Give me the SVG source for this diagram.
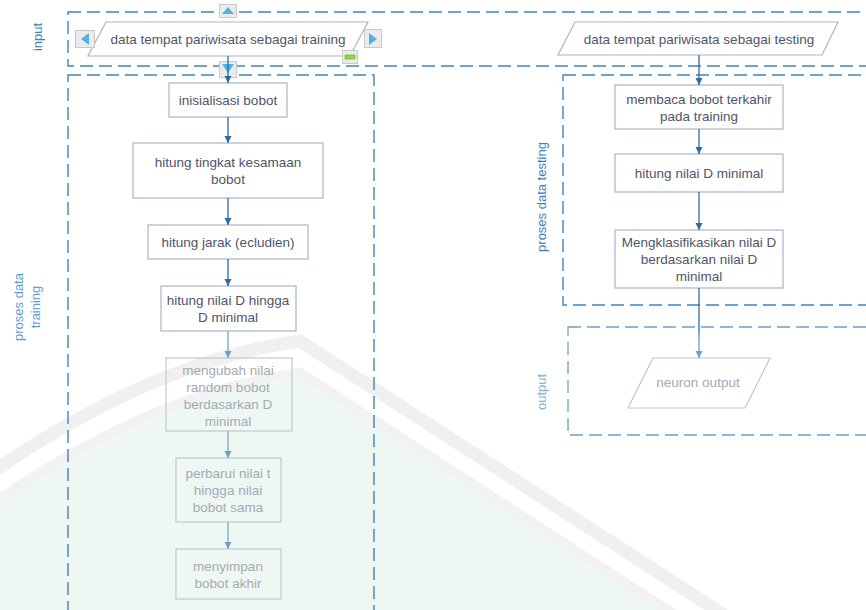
<svg xmlns="http://www.w3.org/2000/svg" width="866" height="610" viewBox="0 0 866 610">
  <style>
    .lane { fill: none; stroke: #3f84bf; stroke-width: 1.4; stroke-dasharray: 13 6; }
    .lane-soft { fill: none; stroke: #6f9fca; stroke-width: 1.3; stroke-dasharray: 13 6; }
    .lbl { font-family: "Liberation Sans", Arial, sans-serif; font-size: 13px; text-anchor: middle; }
    .box { fill: none; stroke: #a9b5c7; stroke-width: 1.2; }
    .box-soft { fill: none; stroke: #bccad2; stroke-width: 1.2; }
    .txt { font-family: "Liberation Sans", Arial, sans-serif; font-size: 13.5px; fill: #50546a; text-anchor: middle; }
    .txt-soft { font-family: "Liberation Sans", Arial, sans-serif; font-size: 13.5px; fill: #a2abb3; text-anchor: middle; }
    .edge { fill: none; stroke: #2b6ca3; stroke-width: 1.3; marker-end: url(#ah); }
    .edge-soft { fill: none; stroke: #6da0c2; stroke-width: 1.2; marker-end: url(#ah-soft); }
    .btn { fill: #ebebeb; stroke: #c9c9c9; stroke-width: 1; }
    .tri { fill: #4fb2e3; }
  </style>
  <defs>
    <marker id="ah" markerWidth="8" markerHeight="8" refX="7" refY="4" orient="auto" markerUnits="userSpaceOnUse">
      <path d="M0,0.5 L7,4 L0,7.5 z" fill="#2b6ca3"/>
    </marker>
    <marker id="ah-soft" markerWidth="8" markerHeight="8" refX="7" refY="4" orient="auto" markerUnits="userSpaceOnUse">
      <path d="M0,0.5 L7,4 L0,7.5 z" fill="#6da0c2"/>
    </marker>
    <linearGradient id="fadeDown" gradientUnits="userSpaceOnUse" x1="0" y1="288" x2="0" y2="358">
      <stop offset="0.6" stop-color="#2b6ca3"/>
      <stop offset="0.75" stop-color="#6da0c2"/>
    </linearGradient>
  </defs>

  <rect width="866" height="610" fill="#ffffff"/>

  <!-- faint background emblem -->
  <g id="emblem">
    <path d="M-10,505 Q150,393 300,372 L676,615 L-10,615 Z" fill="#eef7f2"/>
    <path d="M-10,474 Q150,362 300,341 L724,615" fill="none" stroke="#f0f0f0" stroke-width="13"/>
    <path d="M-10,505 Q150,393 300,372 L676,615" fill="none" stroke="#f1f2f1" stroke-width="9"/>
  </g>

  <!-- swimlanes -->
  <g id="lane-input">
    <rect class="lane" x="68" y="12" width="850" height="54"/>
    <text class="lbl" fill="#3a7fc1" transform="translate(41.5,37) rotate(-90)">input</text>
  </g>
  <g id="lane-training">
    <rect class="lane" x="68" y="75" width="306" height="600"/>
    <text class="lbl" fill="#5f9bd0" transform="translate(23,307) rotate(-90)">proses data</text>
    <text class="lbl" fill="#5f9bd0" transform="translate(40,307) rotate(-90)">training</text>
  </g>
  <g id="lane-testing">
    <rect class="lane" x="563" y="75" width="400" height="230"/>
    <text class="lbl" fill="#3a7fc1" transform="translate(546,197) rotate(-90)">proses data testing</text>
  </g>
  <g id="lane-output">
    <rect class="lane-soft" x="568" y="327" width="400" height="108"/>
    <text class="lbl" fill="#86b0d6" transform="translate(546,392) rotate(-90)">output</text>
  </g>

  <!-- training column -->
  <g id="in-training">
    <polygon class="box" points="106,22 368,22 350,56 88,56"/>
    <text class="txt" x="228" y="43.8">data tempat pariwisata sebagai training</text>
  </g>
  <g id="inisialisasi">
    <rect class="box" x="169" y="83" width="118" height="34"/>
    <text class="txt" x="228" y="104.5">inisialisasi bobot</text>
  </g>
  <g id="kesamaan">
    <rect class="box" x="133" y="143" width="190" height="55"/>
    <text class="txt" x="228" y="166.8">hitung tingkat kesamaan<tspan x="228" dy="17">bobot</tspan></text>
  </g>
  <g id="jarak">
    <rect class="box" x="148" y="225" width="160" height="34"/>
    <text class="txt" x="228" y="246.8">hitung jarak (ecludien)</text>
  </g>
  <g id="nilai-d">
    <rect class="box" x="161" y="286" width="135" height="45"/>
    <text class="txt" x="228" y="305">hitung nilai D hingga<tspan x="228" dy="17">D minimal</tspan></text>
  </g>
  <g id="ubah-bobot">
    <rect class="box-soft" x="166" y="358" width="126" height="73"/>
    <text class="txt-soft" x="228" y="374.8">mengubah nilai<tspan x="228" dy="17">random bobot</tspan><tspan x="228" dy="17">berdasarkan D</tspan><tspan x="228" dy="17">minimal</tspan></text>
  </g>
  <g id="perbarui">
    <rect class="box-soft" x="176" y="458" width="105" height="64"/>
    <text class="txt-soft" x="228" y="477.8">perbarui nilai t<tspan x="228" dy="17">hingga nilai</tspan><tspan x="228" dy="17">bobot sama</tspan></text>
  </g>
  <g id="simpan">
    <rect class="box-soft" x="176" y="549" width="105" height="50"/>
    <text class="txt-soft" x="228" y="570.5">menyimpan<tspan x="228" dy="17">bobot akhir</tspan></text>
  </g>

  <!-- testing column -->
  <g id="in-testing">
    <polygon class="box" points="575,22 838,22 822,55 558,55"/>
    <text class="txt" x="699" y="43.8">data tempat pariwisata sebagai testing</text>
  </g>
  <g id="baca-bobot">
    <rect class="box" x="615" y="85" width="168" height="44"/>
    <text class="txt" x="699" y="103.5">membaca bobot terkahir<tspan x="699" dy="17">pada training</tspan></text>
  </g>
  <g id="d-minimal">
    <rect class="box" x="615" y="154" width="168" height="38"/>
    <text class="txt" x="699" y="177.8">hitung nilai D minimal</text>
  </g>
  <g id="klasifikasi">
    <rect class="box" x="615" y="230" width="168" height="58"/>
    <text class="txt" x="699" y="246.8">Mengklasifikasikan nilai D<tspan x="699" dy="17">berdasarkan nilai D</tspan><tspan x="699" dy="17">minimal</tspan></text>
  </g>
  <g id="neuron-output">
    <polygon class="box-soft" points="653,358 770,358 745,408 628,408"/>
    <text class="txt-soft" x="698" y="386.8" fill="#a7adbb">neuron output</text>
  </g>

  <!-- editor handles on the selected input shape -->
  <g id="handles">
    <rect class="btn" x="219.5" y="4.5" width="17" height="13"/>
    <path class="tri" d="M222,14 L234,14 L228,7 z"/>
    <rect class="btn" x="219.5" y="61.5" width="17" height="16"/>
    <path class="tri" d="M222,64 L234,64 L228,73 z"/>
    <rect class="btn" x="75.5" y="30.5" width="19" height="17"/>
    <path class="tri" d="M89,33 L89,45 L81,39 z"/>
    <rect class="btn" x="364.5" y="29.5" width="17" height="18"/>
    <path class="tri" d="M369,33 L369,45 L377,39 z"/>
    <rect class="btn" x="342.5" y="50.5" width="15" height="13"/>
    <rect x="345" y="55" width="10" height="4" fill="#8fd64a" stroke="#6aa832" stroke-width="0.6"/>
  </g>

  <!-- connectors -->
  <g id="connectors">
    <path class="edge" d="M228,56 V83"/>
    <path class="edge" d="M228,117 V143"/>
    <path class="edge" d="M228,198 V225"/>
    <path class="edge" d="M228,259 V286"/>
    <path class="edge-soft" d="M228,331 V358"/>
    <path class="edge-soft" d="M228,431 V458"/>
    <path class="edge-soft" d="M228,522 V549"/>
    <path class="edge" d="M699,55 V85"/>
    <path class="edge" d="M699,129 V154"/>
    <path class="edge" d="M699,192 V230"/>
    <path d="M699,288 V358" fill="none" stroke="url(#fadeDown)" stroke-width="1.3" marker-end="url(#ah-soft)"/>
  </g>
</svg>
